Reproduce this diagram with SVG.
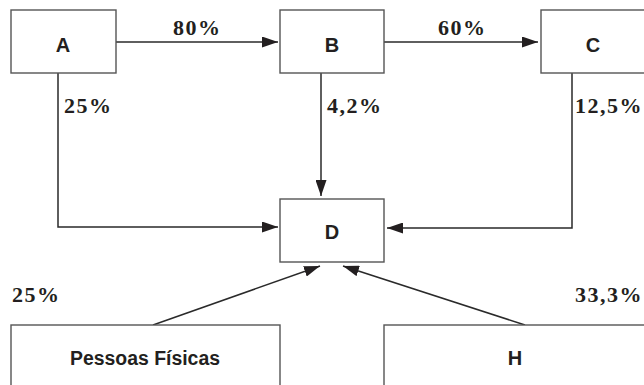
<svg xmlns="http://www.w3.org/2000/svg" width="644" height="385" viewBox="0 0 644 385">
<style>
.box{fill:#fff;stroke:#555;stroke-width:1.4}
.ln{fill:none;stroke:#2a2a2a;stroke-width:1.5}
.lbl{font-family:"Liberation Serif",serif;font-weight:bold;font-size:22px;letter-spacing:1.5px;fill:#231f20}
.nm{font-family:"Liberation Sans",sans-serif;font-weight:bold;font-size:20px;fill:#231f20;text-anchor:middle}
</style>
<defs>
<marker id="ah" markerUnits="userSpaceOnUse" markerWidth="16" markerHeight="11" refX="16" refY="5.5" orient="auto">
<path d="M0,0 L16,5.5 L0,11 z" fill="#231f20"/>
</marker>
</defs>
<rect width="644" height="385" fill="#fff"/>
<g id="connectors">
<line class="ln" x1="116" y1="42" x2="278" y2="42" marker-end="url(#ah)"/>
<line class="ln" x1="384" y1="42" x2="538" y2="42" marker-end="url(#ah)"/>
<polyline class="ln" points="58,73 58,227 278,227" marker-end="url(#ah)"/>
<line class="ln" x1="321" y1="73" x2="321" y2="196" marker-end="url(#ah)"/>
<polyline class="ln" points="572,73 572,228 387,228" marker-end="url(#ah)"/>
<line class="ln" x1="153" y1="325" x2="320" y2="266" marker-end="url(#ah)"/>
<line class="ln" x1="525" y1="325" x2="343" y2="266" marker-end="url(#ah)"/>
<text class="lbl" x="173" y="35">80%</text>
<text class="lbl" x="438" y="35">60%</text>
<text class="lbl" x="64" y="113">25%</text>
<text class="lbl" x="327" y="113">4,2%</text>
<text class="lbl" x="575" y="113">12,5%</text>
<text class="lbl" x="12" y="302">25%</text>
<text class="lbl" x="575" y="302">33,3%</text>
</g>
<g id="A"><rect class="box" x="11" y="10" width="105" height="63"/><text class="nm" x="63" y="52">A</text></g>
<g id="B"><rect class="box" x="280" y="10" width="104" height="63"/><text class="nm" x="332" y="52">B</text></g>
<g id="C"><rect class="box" x="541" y="10" width="105" height="63"/><text class="nm" x="593" y="52">C</text></g>
<g id="D"><rect class="box" x="280" y="199" width="104" height="63"/><text class="nm" x="332" y="239">D</text></g>
<g id="PF"><rect class="box" x="11" y="325" width="269" height="70"/><text class="nm" x="145" y="365" textLength="150" lengthAdjust="spacingAndGlyphs">Pessoas Físicas</text></g>
<g id="H"><rect class="box" x="384" y="325" width="268" height="70"/><text class="nm" x="515" y="365">H</text></g>
</svg>
